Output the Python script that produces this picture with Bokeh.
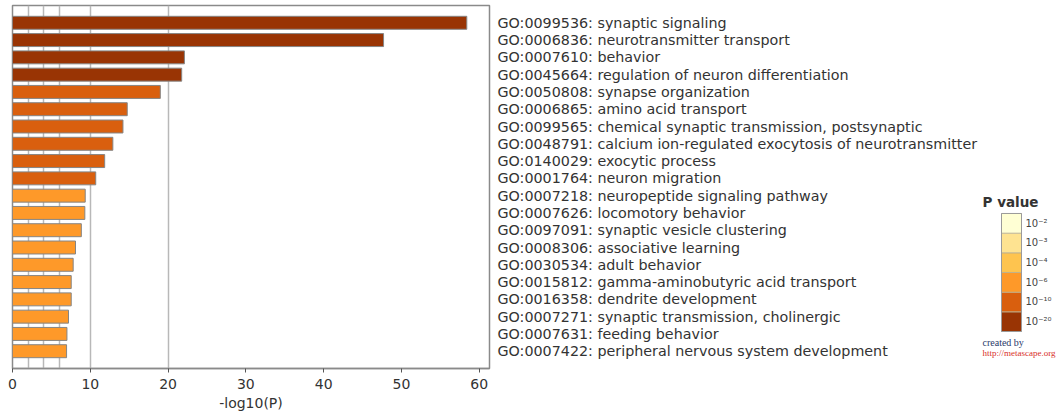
from bokeh.plotting import figure
from bokeh.models import Range1d, FactorRange, FixedTicker, ColumnDataSource
from bokeh.core.properties import value
from bokeh.layouts import row
from bokeh.embed import file_html
from bokeh.resources import INLINE

# ---- data ----
terms = [
    "GO:0099536: synaptic signaling",
    "GO:0006836: neurotransmitter transport",
    "GO:0007610: behavior",
    "GO:0045664: regulation of neuron differentiation",
    "GO:0050808: synapse organization",
    "GO:0006865: amino acid transport",
    "GO:0099565: chemical synaptic transmission, postsynaptic",
    "GO:0048791: calcium ion-regulated exocytosis of neurotransmitter",
    "GO:0140029: exocytic process",
    "GO:0001764: neuron migration",
    "GO:0007218: neuropeptide signaling pathway",
    "GO:0007626: locomotory behavior",
    "GO:0097091: synaptic vesicle clustering",
    "GO:0008306: associative learning",
    "GO:0030534: adult behavior",
    "GO:0015812: gamma-aminobutyric acid transport",
    "GO:0016358: dendrite development",
    "GO:0007271: synaptic transmission, cholinergic",
    "GO:0007631: feeding behavior",
    "GO:0007422: peripheral nervous system development",
]
neg_log10_p = [58.4, 47.7, 22.1, 21.75, 19.0, 14.75, 14.2, 12.9, 11.85, 10.7,
               9.35, 9.3, 8.85, 8.1, 7.8, 7.55, 7.55, 7.2, 7.0, 6.95]

legend_title = "P value"
legend_exponents = [2, 3, 4, 6, 10, 20]
legend_colors = ["#ffffd4", "#fee391", "#fec44f", "#fe9929", "#d95f0e", "#993404"]
grid_lines = [2, 4, 6, 10, 20]
x_ticks = [0, 10, 20, 30, 40, 50, 60]
x_label = "-log10(P)"
credit_lines = ["created by", "http://metascape.org"]

SUP = str.maketrans("0123456789-", "⁰¹²³⁴⁵⁶⁷⁸⁹⁻")
legend_labels = ["10" + ("-%d" % e).translate(SUP) for e in legend_exponents]


def color_for(v):
    c = legend_colors[0]
    for e, col in zip(legend_exponents, legend_colors):
        if v >= e:
            c = col
    return c


bar_colors = [color_for(v) for v in neg_log10_p]

FONT = "DejaVu Sans"
TXT = "#333333"
TOP, BOTTOM = 5, 46

# ---- main bar chart ----
p = figure(width=980, height=414, output_backend="svg", toolbar_location=None,
           x_range=Range1d(0, max(neg_log10_p) * 1.05),
           y_range=FactorRange(factors=list(reversed(terms)), range_padding=0.5,
                               range_padding_units="absolute"),
           y_axis_location="right",
           min_border_left=12, min_border_right=488, min_border_top=TOP, min_border_bottom=BOTTOM)

src = ColumnDataSource(dict(term=terms, val=neg_log10_p, color=bar_colors))
p.hbar(y="term", left=0, right="val", height=0.75, source=src,
       fill_color="color", line_color="#858585", line_width=1)

p.outline_line_color = "#8a8a8a"
p.outline_line_width = 1.5
p.ygrid.visible = False
p.xgrid.ticker = FixedTicker(ticks=grid_lines)
p.xgrid.grid_line_color = "#b8b8b8"
p.xgrid.grid_line_width = 1.5

xa = p.xaxis[0]
xa.ticker = FixedTicker(ticks=x_ticks)
xa.axis_label = x_label
xa.axis_label_text_font = FONT
xa.axis_label_text_font_size = "14px"
xa.axis_label_text_font_style = "normal"
xa.axis_label_text_color = TXT
xa.axis_label_standoff = 3
xa.major_label_text_font = FONT
xa.major_label_text_font_size = "14px"
xa.major_label_text_color = TXT
xa.major_label_standoff = 6
xa.axis_line_color = "#8a8a8a"
xa.axis_line_width = 1.5
xa.major_tick_line_color = "#555555"
xa.major_tick_in = 0
xa.major_tick_out = 4
xa.minor_tick_line_color = None

ya = p.yaxis[0]
ya.axis_line_color = None
ya.major_tick_line_color = None
ya.minor_tick_line_color = None
ya.major_label_text_font = FONT
ya.major_label_text_font_size = "14.3px"
ya.major_label_text_color = TXT
ya.major_label_standoff = 2

# ---- P value legend (box units: 1 box = 1 unit) ----
n = len(legend_labels)
q = figure(width=77, height=414, output_backend="svg", toolbar_location=None,
           x_range=Range1d(-1.05, 2.8), y_range=Range1d(-2.381, 16.074),
           x_axis_location=None, y_axis_location=None,
           min_border_left=0, min_border_right=0, min_border_top=TOP, min_border_bottom=BOTTOM)
q.outline_line_color = None
q.grid.visible = False
idx = list(range(n))
q.rect(x=0.5, y=idx, width=1, height=1, fill_color=list(reversed(legend_colors)),
       line_color="#b8ae92", line_width=0.8)
q.rect(x=0.5, y=(n - 1) / 2, width=1, height=n, fill_color=None, line_color="#9a9a9a", line_width=1)
q.text(x=1.2, y=idx, text=list(reversed(legend_labels)), text_font=value(FONT),
       text_font_size="10px", text_color="#444444", text_baseline="middle", text_align="left")
q.text(x=0.45, y=n + 0.1, text=[legend_title], text_font=value(FONT), text_font_size="13.5px",
       text_font_style="bold", text_color=TXT, text_baseline="middle", text_align="center")
q.text(x=-0.95, y=[-1.06, -1.57], text=credit_lines, text_font=value("Liberation Serif"),
       text_font_size=["10px", "9px"], text_color=["#2a3a6a", "#d8302a"],
       text_baseline="middle", text_align="left")

layout = row(p, q)
open("out.html", "w").write(file_html(layout, INLINE))
